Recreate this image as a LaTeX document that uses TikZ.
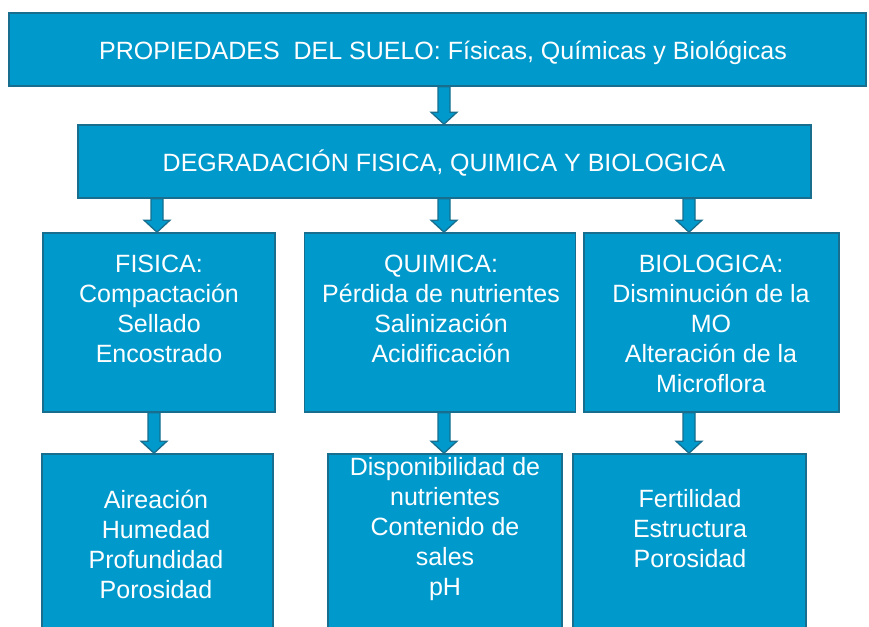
\documentclass[tikz,border=0pt]{standalone}
\usepackage{fontspec}
\setmainfont{Liberation Sans}
\usetikzlibrary{calc}
\definecolor{boxc}{HTML}{0099CC}
\definecolor{bordc}{HTML}{176E8E}
\tikzset{
  box/.style={draw=bordc, fill=boxc, line width=1.6pt, inner sep=0pt},
  txt/.style={text=white, align=center, inner sep=0pt, font=\fontsize{25}{30}\selectfont},
  arrowst/.style={fill=boxc, draw=bordc, line width=1.3pt, line join=miter}
}
\newcommand\blkarrow[3]{%
  \path let \p1=(#2.south), \p2=(#3.north) in
    [arrowst] ({#1pt-6pt},\y1) -- ({#1pt-6pt},{\y2+12pt}) -- ({#1pt-13pt},{\y2+12pt})
    -- ({#1pt},\y2) -- ({#1pt+13pt},{\y2+12pt}) -- ({#1pt+6pt},{\y2+12pt})
    -- ({#1pt+6pt},\y1) -- cycle;
}
\begin{document}
\begin{tikzpicture}[x=1pt,y=-1pt]
\useasboundingbox (0,0) rectangle (869,626);
\clip (0,0) rectangle (869,626);
\fill[white] (0,0) rectangle (869,626);
% boxes
\node[box, minimum width=857pt, minimum height=73pt] (top) at (437.5,49.5) {};
\node[txt] (topt) at (443,53) {PROPIEDADES\ \ DEL SUELO: Físicas, Químicas y Biológicas};
\node[box, minimum width=733pt, minimum height=73pt] (deg) at (444.5,161.5) {};
\node[txt] (degt) at (444,163) {DEGRADACIÓN FISICA, QUIMICA Y BIOLOGICA};
\node[box, minimum width=232pt, minimum height=179pt] (fis) at (159,322.5) {};
\node[box, minimum width=271pt, minimum height=179pt] (qui) at (440,322.5) {};
\node[box, minimum width=255pt, minimum height=179pt] (bio) at (711.5,322.5) {};
\node[txt] (fist) at (159,309) {FISICA:\\Compactación\\Sellado\\Encostrado};
\node[txt] (quit) at (441,309) {QUIMICA:\\Pérdida de nutrientes\\Salinización\\Acidificación};
\node[txt] (biot) at (711,324) {BIOLOGICA:\\Disminución de la\\MO\\Alteración de la\\Microflora};
\node[box, minimum width=231pt, minimum height=200pt] (air) at (157.5,554) {};
\node[box, minimum width=234pt, minimum height=200pt] (dis) at (445,554) {};
\node[box, minimum width=233pt, minimum height=200pt] (fer) at (689.5,554) {};
\node[txt] (airt) at (156,544) {Aireación\\Humedad\\Profundidad\\Porosidad};
\node[txt] (dist) at (445,529) {Disponibilidad de\\nutrientes\\Contenido de\\sales\\pH};
\node[txt] (fert) at (690,529) {Fertilidad\\Estructura\\Porosidad};
% arrows
\blkarrow{444}{top}{deg}
\blkarrow{157}{deg}{fis}
\blkarrow{444}{deg}{qui}
\blkarrow{689}{deg}{bio}
\blkarrow{154}{fis}{air}
\blkarrow{444}{qui}{dis}
\blkarrow{689}{bio}{fer}
\end{tikzpicture}
\end{document}
